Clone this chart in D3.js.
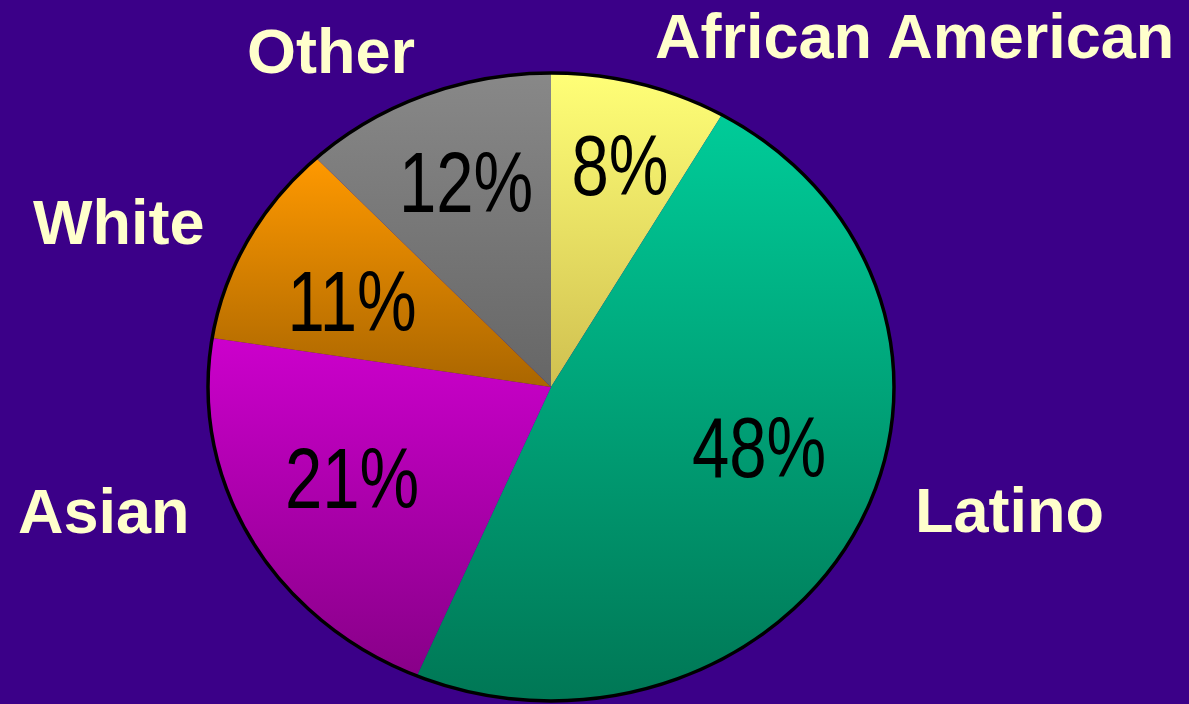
<!DOCTYPE html>
<html>
<head>
<meta charset="utf-8">
<script src="https://cdn.jsdelivr.net/npm/d3@7"></script>
<style>
  html, body { margin: 0; padding: 0; background: #3b0088; }
  svg { display: block; }
</style>
</head>
<body>
<svg id="chart" width="1189" height="704"></svg>
<script>
// Data
const categories = ["African American", "Latino", "Asian", "White", "Other"];
const values = [8.3, 48.1, 21.1, 10.5, 12.0];
const pctLabels = ["8%", "48%", "21%", "11%", "12%"];

// Styling (not data)
const gradTop = ["#ffff77", "#00cc99", "#cc00cc", "#ff9900", "#888888"];
const gradBot = ["#d0c050", "#007755", "#880088", "#aa6600", "#666666"];
// label layout
const catPos = [[655, 58], [915, 532], [18, 533], [33, 244], [247, 73]];
const pctPos = [[620, 195], [759, 477], [352, 508], [352, 331], [466, 212]];

const W = 1189, H = 704;
const cx = 551, cy = 387, rx = 343, ry = 314;

const svg = d3.select("#chart");
svg.append("rect").attr("width", W).attr("height", H).attr("fill", "#3b0088");

const defs = svg.append("defs");
categories.forEach((c, i) => {
  const g = defs.append("linearGradient").attr("id", "g" + i)
    .attr("x1", 0).attr("y1", 0).attr("x2", 0).attr("y2", 1);
  g.append("stop").attr("offset", "0%").attr("stop-color", gradTop[i]);
  g.append("stop").attr("offset", "100%").attr("stop-color", gradBot[i]);
});

const pie = d3.pie().sort(null).value(d => d)(values);
const arc = d3.arc().innerRadius(0).outerRadius(ry);

const pieG = svg.append("g")
  .attr("transform", `translate(${cx},${cy}) scale(${rx / ry},1)`);

pieG.selectAll("path.slice").data(pie).join("path")
  .attr("class", "slice")
  .attr("d", arc)
  .attr("fill", (d, i) => `url(#g${i})`);

svg.append("ellipse")
  .attr("cx", cx).attr("cy", cy).attr("rx", rx).attr("ry", ry)
  .attr("fill", "none").attr("stroke", "#000").attr("stroke-width", 3.5);

// percentage labels (narrow sans)
svg.selectAll("text.pct").data(pctLabels).join("text")
  .attr("class", "pct")
  .attr("transform", (d, i) => `translate(${pctPos[i][0]},${pctPos[i][1]}) scale(0.78,1)`)
  .attr("text-anchor", "middle")
  .attr("font-family", "'Liberation Sans', Arial, sans-serif")
  .attr("font-size", 86)
  .attr("fill", "#000")
  .text(d => d);

// category labels
svg.selectAll("text.cat").data(categories).join("text")
  .attr("class", "cat")
  .attr("x", (d, i) => catPos[i][0])
  .attr("y", (d, i) => catPos[i][1])
  .attr("font-family", "'Liberation Sans', Arial, sans-serif")
  .attr("font-weight", "bold")
  .attr("font-size", 63)
  .attr("fill", "#ffffcc")
  .text(d => d);
</script>
</body>
</html>
